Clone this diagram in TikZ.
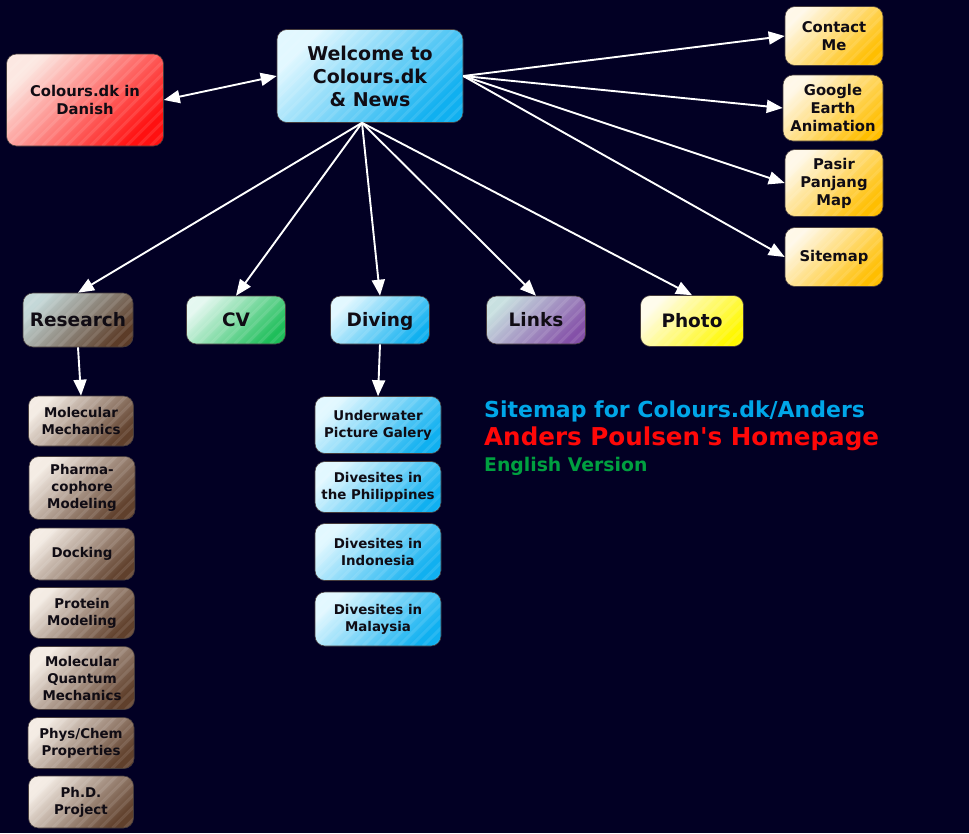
\documentclass[tikz,border=0pt]{standalone}
\usepackage{fontspec}
\setmainfont{DejaVu Sans}
\newfontfamily\plainquote{DejaVu Sans}[Ligatures=ResetAll]
\usepackage{tikz}
\usetikzlibrary{arrows.meta,positioning,calc}
\definecolor{nightbg}{RGB}{2,0,36}
\definecolor{inkdark}{RGB}{16,12,20}
\definecolor{edgegrey}{RGB}{70,60,60}
\definecolor{titlecyan}{RGB}{0,166,232}
\definecolor{titlered}{RGB}{255,8,8}
\definecolor{titlegreen}{RGB}{0,160,64}
\definecolor{redlo}{RGB}{252,232,226}
\definecolor{redhi}{RGB}{255,16,16}
\definecolor{bluelo}{RGB}{226,248,255}
\definecolor{bluehi}{RGB}{16,176,240}
\definecolor{goldlo}{RGB}{255,248,232}
\definecolor{goldhi}{RGB}{255,190,0}
\definecolor{brownlo}{RGB}{196,216,216}
\definecolor{brownhi}{RGB}{92,60,40}
\definecolor{greenlo}{RGB}{228,248,240}
\definecolor{greenhi}{RGB}{30,190,90}
\definecolor{purplelo}{RGB}{200,224,224}
\definecolor{purplehi}{RGB}{132,80,168}
\definecolor{yellowlo}{RGB}{255,252,236}
\definecolor{yellowhi}{RGB}{255,248,0}
\definecolor{tanlo}{RGB}{244,236,228}
\definecolor{tanhi}{RGB}{96,64,44}
\tikzset{
  tile/.style={rectangle, rounded corners=10pt, draw=edgegrey, line width=0.6pt,
    align=center, inner sep=1pt, text=inkdark,
    path picture={\foreach \k in {-9,...,17}
      \draw[white,opacity=0.1,line width=3pt]
        ([xshift=\k*12pt]path picture bounding box.south west) -- ++(130pt,130pt);}},
  sz/.style 2 args={minimum width=#1pt, minimum height=#2pt},
  tint/.style 2 args={shading=axis, top color=#1, bottom color=#2, shading angle=45},
  redbox/.style={tile, tint={redlo}{redhi}},
  bluebox/.style={tile, tint={bluelo}{bluehi}},
  goldbox/.style={tile, tint={goldlo}{goldhi}},
  brownbox/.style={tile, tint={brownlo}{brownhi}},
  greenbox/.style={tile, tint={greenlo}{greenhi}},
  purplebox/.style={tile, tint={purplelo}{purplehi}},
  yellowbox/.style={tile, tint={yellowlo}{yellowhi}},
  tanbox/.style={tile, tint={tanlo}{tanhi}},
  huge/.style={font=\bfseries\fontsize{19}{23}\selectfont},
  big/.style={font=\bfseries\fontsize{18.5}{22}\selectfont, text height=13.5pt, text depth=0pt},
  mid/.style={font=\bfseries\fontsize{14.8}{18}\selectfont},
  small/.style={font=\bfseries\fontsize{13.4}{17}\selectfont},
  link/.style={draw=white, line width=1.9pt, -{Triangle[length=16pt,width=13pt]}},
}
\begin{document}
\begin{tikzpicture}[x=1pt,y=-1pt]
  % background
  \fill[nightbg] (0,0) rectangle (969,833);
  \useasboundingbox (0,0) rectangle (969,833);
  % top row
  \node[redbox,mid,sz={157}{92}] (danish) at (85,100) {Colours.dk in\\Danish};
  \node[bluebox,huge,sz={186}{93}] (welcome) at (370,76) {Welcome to\\Colours.dk\\\& News};
  % right column
  \node[goldbox,mid,sz={98}{59}] (contact) at (834,36) {Contact\\Me};
  \node[goldbox,mid,sz={100}{66}] (google) at (833,108) {Google\\Earth\\Animation};
  \node[goldbox,mid,sz={98}{67}] (pasir) at (834,183) {Pasir\\Panjang\\Map};
  \node[goldbox,mid,sz={98}{59}] (sitemap) at (834,257) {Sitemap};
  % middle row
  \node[brownbox,big,sz={110}{54}] (research) at (78,320) {Research};
  \node[greenbox,big,sz={99}{48}] (cv) at (236,320) {CV};
  \node[bluebox,big,sz={99}{48}] (diving) at (380,320) {Diving};
  \node[purplebox,big,sz={99}{48}] (links) at (536,320) {Links};
  \node[yellowbox,big,sz={103}{51}] (photo) at (692,321) {Photo};
  % research pages
  \node[tanbox,small,sz={105}{50}] (molmech) at (81,421) {Molecular\\Mechanics};
  \node[tanbox,small,sz={106}{63}] (pharma) at (82,488) {Pharma-\\cophore\\Modeling};
  \node[tanbox,small,sz={105}{52}] (docking) at (82,554) {Docking};
  \node[tanbox,small,sz={105}{51}] (protein) at (82,613) {Protein\\Modeling};
  \node[tanbox,small,sz={105}{63}] (quantum) at (82,678) {Molecular\\Quantum\\Mechanics};
  \node[tanbox,small,sz={106}{51}] (physchem) at (81,743) {Phys/Chem\\Properties};
  \node[tanbox,small,sz={105}{52}] (phd) at (81,802) {Ph.D.\\Project};
  % diving pages
  \node[bluebox,small,sz={126}{57}] (gallery) at (378,425) {Underwater\\Picture Galery};
  \node[bluebox,small,sz={126}{51}] (philip) at (378,487) {Divesites in\\the Philippines};
  \node[bluebox,small,sz={126}{57}] (indo) at (378,552) {Divesites in\\Indonesia};
  \node[bluebox,small,sz={126}{54}] (malay) at (378,619) {Divesites in\\Malaysia};
  % titles
  \node[anchor=base west,inner sep=0,text=titlecyan,font=\bfseries\fontsize{22}{26}\selectfont] (head) at (484,417) {Sitemap for Colours.dk/Anders};
  \node[anchor=base west,inner sep=0,text=titlered,font=\bfseries\fontsize{24.6}{28}\selectfont] (owner) at (484,445) {Anders Poulsen{\plainquote\bfseries '}s Homepage};
  \node[anchor=base west,inner sep=0,text=titlegreen,font=\bfseries\fontsize{18.8}{22}\selectfont] (lang) at (484,471) {English Version};
  % connectors
  \coordinate (hub) at ([xshift=-8pt]welcome.south);
  \draw[link,{Triangle[length=16pt,width=13pt]}-{Triangle[length=16pt,width=13pt]}] (danish.east) -- (welcome.west);
  \foreach \t in {contact,google,pasir,sitemap}
    \draw[link] (welcome.east) -- (\t.west);
  \foreach \t in {research,cv,diving,links,photo}
    \draw[link] (hub) -- (\t.north);
  \draw[link] (research.south) -- (molmech.north);
  \draw[link] (diving.south) -- (gallery.north);
\end{tikzpicture}
\end{document}
